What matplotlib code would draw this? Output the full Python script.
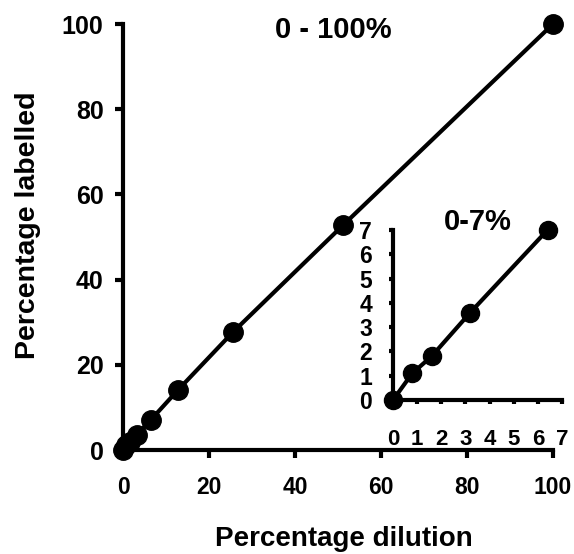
import matplotlib.pyplot as plt

plt.rcParams["font.family"] = ["Liberation Sans", "DejaVu Sans"]
plt.rcParams["font.weight"] = "bold"

# main panel: percentage dilution vs percentage labelled
dilution = [0, 0.8, 1.6, 3.2, 6.4, 12.8, 25.6, 51.2, 100]
labelled = [0, 1.1, 1.8, 3.6, 7.0, 14.1, 27.7, 52.8, 100]

# inset: low range only
dilution_low = [0, 0.8, 1.6, 3.2, 6.4]
labelled_low = [0, 1.1, 1.8, 3.6, 7.0]

main_ticks = [0, 20, 40, 60, 80, 100]
inset_ticks = [0, 1, 2, 3, 4, 5, 6, 7]

fig = plt.figure(figsize=(5.74, 5.54), dpi=100)
W, H = 574, 554

ax = fig.add_axes([123 / W, 1 - 450 / H, 430 / W, 426 / H])
ax.plot(dilution, labelled, color="black", linewidth=3, marker="o",
        markersize=14, clip_on=False, zorder=3)
ax.set_xlim(0, 100)
ax.set_ylim(0, 100)
ax.set_xticks(main_ticks)
ax.set_yticks(main_ticks)
for side in ["top", "right"]:
    ax.spines[side].set_visible(False)
for side in ["left", "bottom"]:
    ax.spines[side].set_linewidth(3)
ax.tick_params(axis="both", direction="out", length=6, width=3)
ax.tick_params(axis="x", pad=13, labelsize=16.5)
ax.tick_params(axis="y", pad=8, labelsize=18)
xlab = ax.set_xlabel("Percentage dilution", fontsize=20, fontweight="bold")
xlab.set_va("baseline")
ax.xaxis.set_label_coords(0.514, -0.226)
ax.set_ylabel("Percentage labelled", fontsize=20.5, fontweight="bold")
ax.yaxis.set_label_coords(-0.19, 0.528)
ax.text(0.49, 0.985, "0 - 100%", transform=ax.transAxes, ha="center",
        va="center", fontsize=21, fontweight="bold")

ins = fig.add_axes([393 / W, 1 - 400 / H, 169 / W, 170 / H])
ins.plot(dilution_low, labelled_low, color="black", linewidth=3,
         marker="o", markersize=13, clip_on=False, zorder=3)
ins.set_xlim(0, 7)
ins.set_ylim(0, 7)
ins.set_xticks(inset_ticks)
ins.set_yticks(inset_ticks)
ins.patch.set_alpha(0)
for side in ["top", "right"]:
    ins.spines[side].set_visible(False)
for side in ["left", "bottom"]:
    ins.spines[side].set_linewidth(3)
ins.tick_params(axis="both", direction="out", length=3, width=3)
ins.tick_params(axis="x", pad=18, labelsize=16)
ins.tick_params(axis="y", pad=12, labelsize=16.5)
ins.text(0.5, 1.05, "0-7%", transform=ins.transAxes, ha="center",
         va="center", fontsize=21, fontweight="bold")

fig.savefig("out.png", dpi=100)
